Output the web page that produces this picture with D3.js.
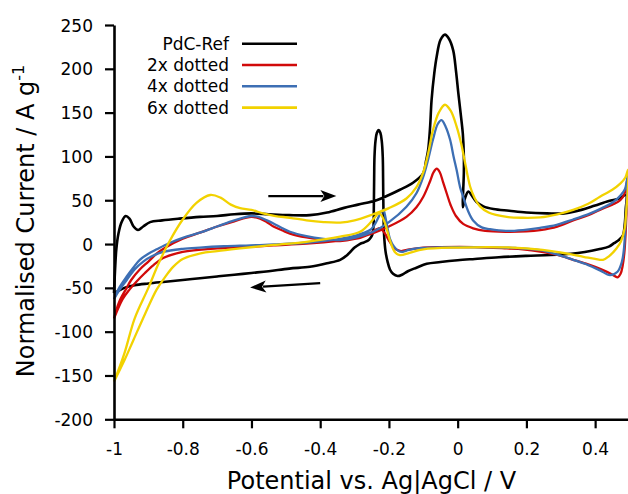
<!DOCTYPE html>
<html><head><meta charset="utf-8">
<script src="https://cdn.jsdelivr.net/npm/d3@7"></script>
<style>
html,body{margin:0;padding:0;background:#fff;}
svg{display:block;font-family:"DejaVu Sans",sans-serif;}
</style></head><body>
<svg id="chart" width="628" height="494"></svg>
<script>
// ---- data ----
const xTicks = [-1, -0.8, -0.6, -0.4, -0.2, 0, 0.2, 0.4];
const yTicks = [-200, -150, -100, -50, 0, 50, 100, 150, 200, 250];
const seriesNames = ["PdC-Ref", "2x dotted", "4x dotted", "6x dotted"];
const seriesColors = ["#000000", "#d10a0a", "#3d6fb4", "#f2d200"];

const pdcRef = [
  [-1,-56],[-0.997,-30],[-0.993,-5],[-0.987,12],[-0.978,25],[-0.966,32],[-0.955,29],[-0.943,20],[-0.93,16],
  [-0.915,20],[-0.895,25],[-0.86,27],[-0.81,29],[-0.75,31],[-0.7,32],[-0.65,34],[-0.6,35],[-0.55,34],
  [-0.49,33],[-0.43,33],[-0.38,36],[-0.333,41],[-0.29,45],[-0.236,50],[-0.2,56],[-0.168,62],[-0.13,70],
  [-0.1,81],[-0.092,95],[-0.086,107],[-0.08,135],[-0.076,164],[-0.068,195],[-0.061,214],[-0.05,233],
  [-0.037,239],[-0.025,234],[-0.013,221],[-0.005,198],[0.002,172],[0.009,148],[0.015,126],[0.018,100],
  [0.018,81],[0.016,60],[0.015,42],[0.022,53],[0.031,60],[0.042,55],[0.055,48],[0.075,43],[0.104,40],
  [0.15,38],[0.2,36],[0.26,35],[0.31,35],[0.36,39],[0.4,44],[0.44,49],[0.47,52],[0.49,56],
  [0.489,40],[0.486,22],[0.481,10],[0.47,5],[0.455,1],[0.44,-3],[0.41,-6],[0.37,-9],[0.33,-11],
  [0.27,-12.5],[0.2,-13.5],[0.12,-15],[0.05,-17],[0,-18.5],[-0.05,-20.5],[-0.09,-22.5],[-0.12,-27],
  [-0.145,-31],[-0.162,-35],[-0.175,-36.5],[-0.188,-34],[-0.197,-29],[-0.204,-20],[-0.21,-8],[-0.214,10],
  [-0.216,40],[-0.217,75],[-0.218,100],[-0.221,118],[-0.225,127],[-0.23,130],[-0.235,127],[-0.239,118],
  [-0.242,100],[-0.243,75],[-0.244,40],[-0.245,20],[-0.249,10],[-0.258,5],[-0.272,2],[-0.285,0],[-0.3,-4],
  [-0.32,-12],[-0.342,-18],
  [-0.38,-22],[-0.43,-26],[-0.49,-28],[-0.55,-31],[-0.6,-33],[-0.65,-35],[-0.7,-37],[-0.75,-39],[-0.8,-41],
  [-0.85,-43],[-0.9,-45],[-0.94,-47],[-0.97,-50],[-0.99,-54],[-1,-56]
];

const dotted2x = [
  [-1,-85],[-0.985,-66],[-0.963,-50],[-0.95,-41],[-0.925,-29],[-0.9,-20],[-0.876,-11],[-0.85,-4],[-0.8,6],
  [-0.75,13],[-0.7,20],[-0.65,26],[-0.6,31],[-0.575,29],[-0.555,25],[-0.536,20],[-0.51,15.5],[-0.488,12],
  [-0.44,7.5],[-0.39,4.5],[-0.342,3.5],[-0.3,6],[-0.246,12.5],[-0.2,20],[-0.149,31],[-0.12,42],[-0.1,54],
  [-0.08,72],[-0.07,82],[-0.061,86],[-0.052,82],[-0.042,70],[-0.032,58],[-0.02,44],[-0.005,32],[0.016,23],
  [0.045,18],[0.08,15],[0.143,14],[0.2,14.5],[0.24,16],[0.29,20],[0.336,27],[0.38,33],[0.414,39],[0.45,45],
  [0.473,50],[0.486,58],[0.494,74],
  [0.492,45],[0.489,15],[0.485,-10],[0.48,-25],[0.474,-34],[0.466,-38],[0.455,-36],[0.433,-31.5],[0.4,-26],
  [0.37,-22],[0.336,-18],[0.29,-12.5],[0.24,-8.5],[0.19,-6],[0.143,-5],[0.05,-3.5],[-0.05,-3.5],[-0.1,-4],
  [-0.14,-6],[-0.165,-8],[-0.18,-6],[-0.19,-2],[-0.2,4],[-0.21,11],[-0.222,17],[-0.23,18],[-0.24,16],
  [-0.255,12],[-0.284,7],[-0.342,4],[-0.44,0.5],[-0.536,-1.5],[-0.6,-3],[-0.7,-5],[-0.8,-9],[-0.857,-16],
  [-0.885,-24],[-0.91,-33],[-0.935,-43],[-0.955,-52],[-0.975,-63],[-1,-85]
];

const dotted4x = [
  [-1,-63],[-0.985,-50],[-0.963,-37],[-0.944,-27],[-0.925,-18],[-0.9,-11],[-0.876,-6],[-0.84,1],[-0.8,7],
  [-0.75,13],[-0.7,20],[-0.65,27],[-0.6,32],[-0.58,31],[-0.555,27],[-0.536,23.5],[-0.51,18],[-0.488,14],
  [-0.44,9],[-0.39,6],[-0.342,4.6],[-0.3,7],[-0.246,14],[-0.2,25],[-0.149,42.6],[-0.12,58],[-0.1,77],
  [-0.085,98],[-0.072,119],[-0.058,137],[-0.047,141.5],[-0.035,134],[-0.022,119],[-0.012,100],[-0.003,84.5],
  [0.007,65],[0.016,54],[0.03,38],[0.045,27],[0.07,19],[0.094,17],[0.14,15],[0.19,16],[0.24,18.5],
  [0.288,22],[0.336,28],[0.386,35],[0.42,41],[0.453,48],[0.475,56],[0.487,63],[0.495,78],
  [0.492,50],[0.488,20],[0.484,-5],[0.478,-20],[0.465,-31.6],[0.443,-35.4],[0.414,-30],[0.38,-24],
  [0.336,-18],[0.29,-12],[0.24,-7],[0.17,-4.5],[0.094,-3.8],[-0.052,-3.8],[-0.12,-5],[-0.145,-7],
  [-0.159,-8.8],[-0.172,-8],[-0.185,-3],[-0.197,6],[-0.206,22],[-0.212,34],[-0.216,39],[-0.222,37],
  [-0.23,31],[-0.242,22],[-0.255,16],[-0.294,10],[-0.342,6],[-0.44,1.5],[-0.536,-0.5],[-0.604,-1.5],
  [-0.68,-2.5],[-0.75,-4],[-0.8,-5.5],[-0.857,-9],[-0.89,-14],[-0.915,-20],[-0.94,-29],[-0.963,-41],
  [-0.985,-53],[-1,-63]
];

const dotted6x = [
  [-1,-157],[-0.97,-125],[-0.94,-85],[-0.9,-50],[-0.87,-22],[-0.84,2],[-0.8,28],[-0.76,47],[-0.72,56],
  [-0.69,53],[-0.66,45],[-0.633,41],[-0.6,39],[-0.566,35],[-0.53,32],[-0.488,30],[-0.44,27],[-0.39,25],
  [-0.342,24.5],[-0.3,27],[-0.246,34],[-0.2,41],[-0.149,52],[-0.12,65],[-0.1,82],[-0.085,105],[-0.072,130],
  [-0.055,150],[-0.037,159],[-0.02,152],[-0.003,134],[0.01,115],[0.02,96],[0.036,66],[0.05,52],[0.065,43],
  [0.09,36],[0.143,31],[0.19,30],[0.24,30.5],[0.29,34],[0.336,39],[0.38,46],[0.414,54],[0.45,62],
  [0.473,69],[0.488,76],[0.496,85],
  [0.494,55],[0.49,35],[0.486,18],[0.475,3],[0.462,-5],[0.44,-14],[0.423,-18],[0.4,-17],[0.366,-14.5],
  [0.288,-8.8],[0.2,-5],[0.143,-3.8],[0,-4],[-0.1,-6],[-0.14,-10],[-0.168,-12.6],[-0.183,-9],[-0.197,4],
  [-0.21,22],[-0.222,33],[-0.23,35],[-0.24,31],[-0.255,24],[-0.284,14],[-0.342,8.4],[-0.44,2.6],
  [-0.536,-1],[-0.633,-5],[-0.7,-8],[-0.748,-10.6],[-0.8,-17],[-0.828,-26],[-0.852,-38],[-0.876,-52],
  [-0.91,-80],[-0.944,-110],[-0.97,-133],[-1,-157]
];

const seriesData = [pdcRef, dotted2x, dotted4x, dotted6x];
const arrowForward = [[-0.551, 54.8], [-0.353, 54.8]];
const arrowReverse = [[-0.400, -44.5], [-0.604, -49.6]];

// ---- chart ----
const svg = d3.select("#chart");
const x = d3.scaleLinear().domain([-1, 0.5]).range([114, 629.5]);
const y = d3.scaleLinear().domain([-200, 250]).range([419.3, 25]);

const line = d3.line().x(d => x(d[0])).y(d => y(d[1])).curve(d3.curveCatmullRom.alpha(0.5));

seriesData.forEach((s, i) => {
  svg.append("path").datum(s)
    .attr("d", line)
    .attr("fill", "none")
    .attr("stroke", seriesColors[i])
    .attr("stroke-width", i === 0 ? 2.6 : 2.3)
    .attr("stroke-linejoin", "round");
});

// arrows
function arrow(a) {
  const x0 = x(a[0][0]), y0 = y(a[0][1]), x1 = x(a[1][0]), y1 = y(a[1][1]);
  const ang = Math.atan2(y1 - y0, x1 - x0);
  const L = 16, W = 6;
  const bx = x1 - L * Math.cos(ang), by = y1 - L * Math.sin(ang);
  svg.append("line").attr("x1", x0).attr("y1", y0).attr("x2", bx + 3 * Math.cos(ang)).attr("y2", by + 3 * Math.sin(ang))
    .attr("stroke", "#000").attr("stroke-width", 2.2);
  const px = -Math.sin(ang) * W, py = Math.cos(ang) * W;
  const ix = x1 - (L - 4) * Math.cos(ang), iy = y1 - (L - 4) * Math.sin(ang);
  svg.append("path")
    .attr("d", `M${x1},${y1}L${bx + px},${by + py}L${ix},${iy}L${bx - px},${by - py}Z`)
    .attr("fill", "#000");
}
arrow(arrowForward);
arrow(arrowReverse);

// axes
const xAxis = svg.append("g").attr("transform", "translate(0,419.3)")
  .call(d3.axisBottom(x).tickValues(xTicks).tickFormat(d => String(d)).tickSize(9).tickSizeOuter(0).tickPadding(15));
const yAxis = svg.append("g").attr("transform", "translate(114,0)")
  .call(d3.axisLeft(y).tickValues(yTicks).tickFormat(d => String(d)).tickSize(9).tickSizeOuter(0).tickPadding(12));
[xAxis, yAxis].forEach(g => {
  g.attr("font-family", "DejaVu Sans, sans-serif").attr("font-size", 17);
  g.select(".domain").attr("stroke", "#000").attr("stroke-width", 2.6);
  g.selectAll(".tick line").attr("stroke", "#000").attr("stroke-width", 2.2);
  g.selectAll(".tick text").attr("fill", "#000");
});
yAxis.selectAll(".tick text").attr("dy", "0.36em");

// axis titles
svg.append("text").attr("x", 371.5).attr("y", 489).attr("text-anchor", "middle")
  .attr("font-size", 24).attr("fill", "#000").text("Potential vs. Ag|AgCl / V");
const yt = svg.append("text").attr("transform", "translate(34,221) rotate(-90)")
  .attr("text-anchor", "middle").attr("font-size", 24).attr("fill", "#000");
yt.append("tspan").text("Normalised Current / A g");
yt.append("tspan").attr("dy", -10).attr("font-size", 16).text("-1");

// legend
seriesNames.forEach((n, i) => {
  const ly = 43.7 + i * 21.3;
  svg.append("text").attr("x", 229).attr("y", ly + 6).attr("text-anchor", "end")
    .attr("font-size", 17).attr("fill", "#000").text(n);
  svg.append("line").attr("x1", 242).attr("x2", 297).attr("y1", ly).attr("y2", ly)
    .attr("stroke", seriesColors[i]).attr("stroke-width", 2.6);
});
</script>
</body></html>
